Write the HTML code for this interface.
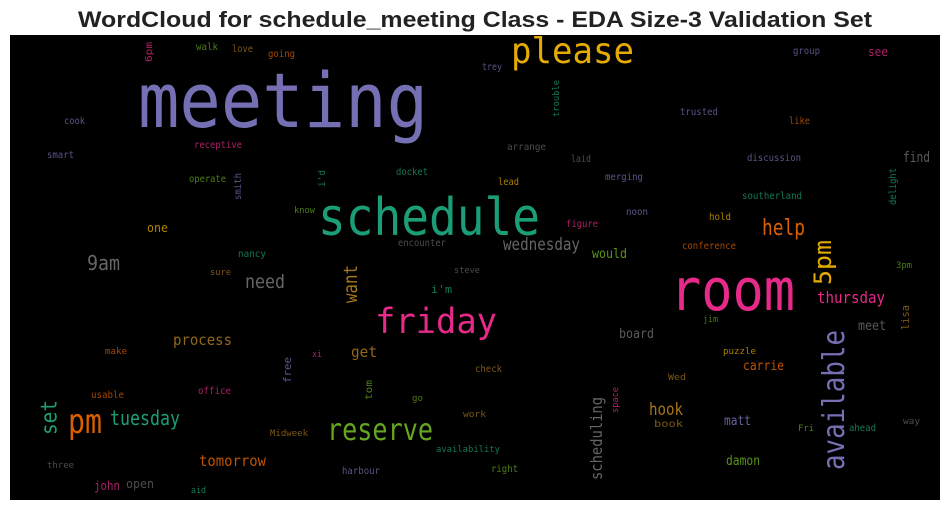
<!DOCTYPE html>
<html><head><meta charset="utf-8">
<style>
html,body{margin:0;padding:0;background:#fff;width:950px;height:511px;overflow:hidden}
svg{display:block}
text{font-family:"DejaVu Sans Mono","Liberation Mono",monospace}
</style></head>
<body>
<svg id="wc" width="950" height="511" viewBox="0 0 950 511">
<text x="475" y="27" text-anchor="middle" font-weight="bold" font-size="22" fill="#222" textLength="794" lengthAdjust="spacingAndGlyphs" style="font-family:'Liberation Sans',sans-serif">WordCloud for schedule_meeting Class - EDA Size-3 Validation Set</text>
<rect x="10" y="35" width="930" height="465" fill="#000"/>
<g id="words"></g>
</svg>
<script>
// [word, x, y(baseline) / vertical: x right edge, y bottom, size, color, width/length, vertical]
const words = [
["meeting",138,127,76,"#7570b3",290,0],
["schedule",318,235,52,"#1b9e77",222,0],
["please",511,63,36,"#e6ab02",123,0],
["room",670,310,58,"#e7298a",125,0],
["friday",375,333,35,"#e7298a",122,0],
["reserve",327,440,30,"#66a61e",106,0],
["available",850,470,30,"#7570b3",140,1],
["5pm",836,285,24,"#e6ab02",45,1],
["help",762,235,22,"#d95f02",43,0],
["pm",68,433,34,"#d95f02",34,0],
["set",61,435,22,"#1b9e77",35,1],
["tuesday",110,425,20,"#1b9e77",70,0],
["9am",87,270,20,"#666666",33,0],
["need",245,288,19,"#666666",40,0],
["want",361,303,19,"#a6761d",38,1],
["wednesday",503,250,17,"#666666",77,0],
["thursday",817,303,16,"#e7298a",68,0],
["process",173,345,15,"#a6761d",59,0],
["get",351,357,15,"#a6761d",26,0],
["tomorrow",199,466,15,"#d95f02",67,0],
["hook",649,415,17,"#a6761d",34,0],
["scheduling",605,480,16,"#666666",83,1],
["carrie",743,370,13,"#d95f02",41,0],
["matt",724,425,13,"#7570b3",27,0],
["damon",726,465,13,"#66a61e",34,0],
["board",619,338,13,"#666666",35,0],
["meet",858,330,13,"#666666",28,0],
["find",903,162,14,"#666666",27,0],
["would",592,258,13,"#66a61e",35,0],
["lisa",911,330,11,"#a6761d",25,1],
["conference",682,249,10,"#d95f02",54,0],
["hold",709,220,10,"#e6ab02",22,0],
["southerland",742,199,10,"#1b9e77",60,0],
["delight",898,205,10,"#1b9e77",37,1],
["discussion",747,161,10,"#7570b3",54,0],
["like",789,124,10,"#d95f02",21,0],
["trusted",680,115,10,"#7570b3",38,0],
["group",793,54,10,"#7570b3",27,0],
["see",868,56,12,"#e7298a",20,0],
["trey",482,70,10,"#7570b3",20,0],
["trouble",561,117,9,"#1b9e77",37,1],
["arrange",507,150,10,"#666666",39,0],
["laid",571,162,10,"#666666",20,0],
["merging",605,180,10,"#7570b3",38,0],
["lead",498,185,10,"#e6ab02",21,0],
["noon",626,215,10,"#7570b3",22,0],
["figure",566,227,10,"#e7298a",32,0],
["3pm",896,268,9,"#66a61e",16,0],
["6pm",154,62,10,"#e7298a",20,1],
["walk",196,50,10,"#66a61e",22,0],
["love",232,52,10,"#a6761d",21,0],
["going",268,57,10,"#d95f02",27,0],
["cook",64,124,10,"#7570b3",21,0],
["smart",47,158,10,"#7570b3",27,0],
["receptive",194,148,10,"#e7298a",48,0],
["operate",189,182,10,"#66a61e",37,0],
["smith",243,200,10,"#7570b3",27,1],
["i'd",327,187,10,"#1b9e77",17,1],
["docket",396,175,10,"#1b9e77",32,0],
["know",294,213,9,"#66a61e",21,0],
["one",147,232,12,"#e6ab02",21,0],
["encounter",398,246,10,"#666666",48,0],
["nancy",238,257,10,"#1b9e77",28,0],
["sure",210,275,9,"#a6761d",21,0],
["steve",454,273,9,"#666666",26,0],
["i'm",431,293,11,"#1b9e77",21,0],
["make",105,354,9,"#d95f02",22,0],
["xi",312,357,9,"#e7298a",10,0],
["free",293,383,11,"#7570b3",26,1],
["office",198,394,10,"#e7298a",33,0],
["usable",91,398,10,"#d95f02",33,0],
["tom",374,400,10,"#66a61e",20,1],
["go",412,401,9,"#66a61e",11,0],
["check",475,372,10,"#a6761d",27,0],
["work",463,417,9,"#a6761d",23,0],
["Midweek",270,436,9,"#a6761d",38,0],
["availability",436,452,9,"#1b9e77",64,0],
["three",47,468,9,"#666666",27,0],
["harbour",342,474,10,"#7570b3",38,0],
["right",491,472,10,"#66a61e",27,0],
["john",94,490,12,"#e7298a",26,0],
["open",126,488,12,"#666666",28,0],
["aid",191,493,9,"#1b9e77",15,0],
["jim",703,322,9,"#66a61e",15,0],
["puzzle",723,354,9,"#e6ab02",33,0],
["Wed",668,380,9,"#a6761d",18,0],
["space",620,413,9,"#e7298a",26,1],
["book",654,427,10,"#a6761d",29,0],
["Fri",798,431,9,"#66a61e",16,0],
["ahead",849,431,10,"#1b9e77",27,0],
["way",903,424,9,"#666666",17,0]
];
const g = document.getElementById('words');
const NS = 'http://www.w3.org/2000/svg';
for (const w of words) {
  const t = document.createElementNS(NS, 'text');
  
  
  t.setAttribute('font-size', w[3]);
  t.setAttribute('fill', w[4]);
  t.setAttribute('textLength', w[5]);
  t.setAttribute('lengthAdjust', 'spacingAndGlyphs');
  if (w[3] <= 12) t.setAttribute('opacity', '0.75');
  else if (w[3] <= 15) t.setAttribute('opacity', '0.88');
  if (w[6]) {
    const bx = w[1] - 0.2 * w[3];
    t.setAttribute('x', 0);
    t.setAttribute('y', 0);
    t.setAttribute('transform', 'translate(' + bx + ',' + w[2] + ') rotate(-90)');
  } else {
    t.setAttribute('x', w[1]);
    t.setAttribute('y', w[2]);
  }
  t.textContent = w[0];
  g.appendChild(t);
}
</script>
</body></html>
